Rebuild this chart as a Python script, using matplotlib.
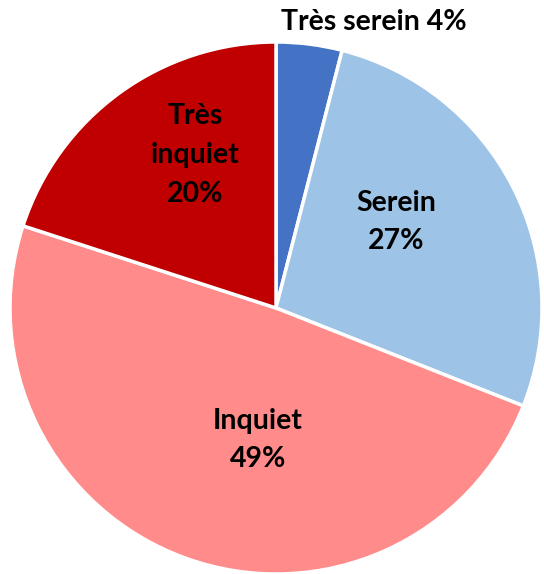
import matplotlib
matplotlib.use("Agg")
import matplotlib.pyplot as plt

labels = ["Très serein", "Serein", "Inquiet", "Très\ninquiet"]
values = [4, 27, 49, 20]
colors = ["#4472C4", "#9DC3E6", "#FF8B8B", "#C00000"]

W, H = 544, 574
cx, cy, R = 276, 308, 266

fig = plt.figure(figsize=(W/100, H/100), dpi=100)
ax = fig.add_axes([0, 0, 1, 1])
ax.pie(values, colors=colors, startangle=90, counterclock=False, radius=1,
       wedgeprops=dict(edgecolor="white", linewidth=2.5))
ax.set_xlim(-cx/R, (W-cx)/R)
ax.set_ylim(-(H-cy)/R, cy/R)
ax.set_aspect("equal")
ax.axis("off")

def px(x, y):
    return (x-cx)/R, (cy-y)/R

font = dict(family=["Lato", "DejaVu Sans"], fontweight="bold", fontsize=20.5,
            color="black", ha="center", va="center", linespacing=1.6)
pos = [(374, 22), (396, 222), (258, 440), (195, 155)]
texts = [f"{labels[0]} {values[0]}%"] + [f"{l}\n{v}%" for l, v in zip(labels[1:], values[1:])]
for (x, y), t in zip(pos, texts):
    ax.text(*px(x, y), t, **font)

fig.savefig("out.png", dpi=100)
